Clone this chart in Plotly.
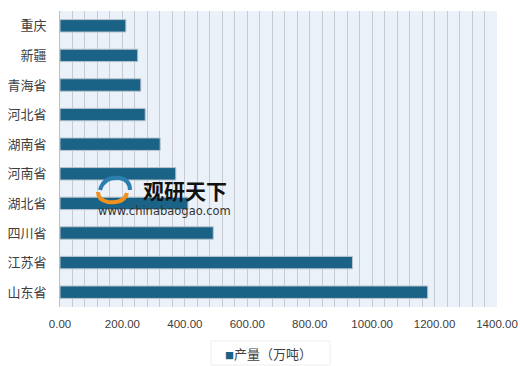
import plotly.graph_objects as go

categories = ["山东省", "江苏省", "四川省", "湖北省", "河南省", "湖南省", "河北省", "青海省", "新疆", "重庆"]
values = [1178, 937, 491, 410, 371, 321, 273, 259, 249, 211]
series_name = "产量（万吨）"
x_ticks = [0, 200, 400, 600, 800, 1000, 1200, 1400]

FONT = "Noto Sans CJK SC, Noto Sans, sans-serif"
BAR = "#1b6386"
W, H = 520, 366
# plot area in window pixels: x 60..497, y 11..307
L, T = 60, 11
R, B = W - 497, H - 307
PW, PH = W - L - R, H - T - B


def px(x):
    return (x - L) / PW


def py(y):
    return (H - B - y) / PH


fig = go.Figure()
fig.add_trace(go.Bar(
    y=categories, x=values, orientation="h", name=series_name,
    marker=dict(color=BAR, line=dict(color="#b9c4cc", width=1)),
    width=0.42, showlegend=False,
))

fig.update_layout(
    width=W, height=H,
    margin=dict(l=L, r=R, t=T, b=B, autoexpand=False),
    paper_bgcolor="white",
    plot_bgcolor="#eaf1f8",
    font=dict(family=FONT, size=12, color="#404040"),
    showlegend=False,
    xaxis=dict(range=[0, 1400], tickvals=x_ticks, tickformat=".2f", automargin=False,
               showgrid=True, gridcolor="#c6cbd1", gridwidth=1,
               minor=dict(dtick=40, showgrid=True, gridcolor="#c6cbd1", gridwidth=1),
               zeroline=False, showline=False, ticks="",
               tickfont=dict(size=11.5, color="#404040", family="Liberation Sans, Arial, sans-serif"),
               ticklabelstandoff=8),
    yaxis=dict(categoryorder="array", categoryarray=categories, automargin=False,
               showgrid=False, showline=True, linecolor="#bfbfbf", linewidth=1,
               ticks="", tickfont=dict(size=13, color="#404040"), ticklabelstandoff=10,
               range=[-0.5, 9.5]),
)

# legend box (drawn as text)
fig.add_shape(type="rect", xref="paper", yref="paper",
              x0=px(211), x1=px(330), y0=py(341), y1=py(365),
              fillcolor="white", line=dict(color="#eeeeee", width=1), layer="above")
fig.add_annotation(text=f"<span style='color:{BAR};font-size:9px'>■</span>{series_name}",
                   xref="paper", yref="paper", x=px(268), y=py(353),
                   xanchor="center", yanchor="middle", showarrow=False,
                   font=dict(size=13, color="#404040", family=FONT))

# watermark
fig.add_shape(type="path", xref="paper", yref="paper",
              path=f"M {px(100)},{py(190)} Q {px(104)},{py(176)} {px(120)},{py(178)} "
                   f"Q {px(130)},{py(180)} {px(130)},{py(190)}",
              line=dict(color="#2b7fb0", width=4), layer="above")
fig.add_shape(type="path", xref="paper", yref="paper",
              path=f"M {px(127)},{py(193)} Q {px(124)},{py(204)} {px(108)},{py(202)} "
                   f"Q {px(98)},{py(200)} {px(98)},{py(192)}",
              line=dict(color="#f0901e", width=4), layer="above")
fig.add_annotation(text="<b>观研天下</b>", xref="paper", yref="paper",
                   x=px(185), y=py(190.5), xanchor="center", yanchor="middle", showarrow=False,
                   font=dict(size=21, color="#111111", family=FONT))
fig.add_annotation(text="www.chinabaogao.com", xref="paper", yref="paper",
                   x=px(164.5), y=py(211), xanchor="center", yanchor="middle", showarrow=False,
                   font=dict(size=11.5, color="#333333", family="DejaVu Sans"))

fig.write_html("out.html", config={"displayModeBar": False},
               post_script="document.body.style.margin='0';document.body.style.overflow='hidden';")
